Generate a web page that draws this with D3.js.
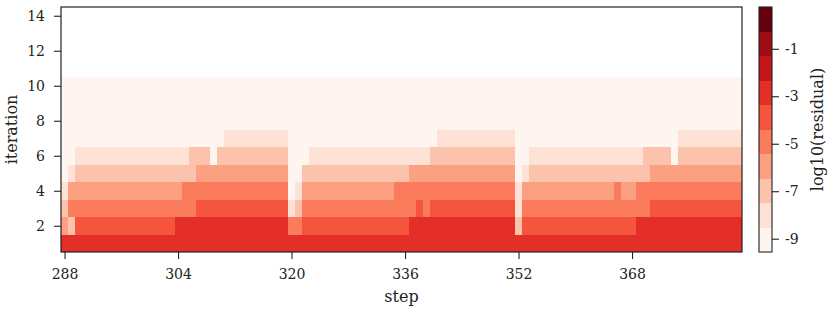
<!DOCTYPE html>
<html>
<head>
<meta charset="utf-8">
<script src="https://cdn.jsdelivr.net/npm/d3@7"></script>
<style>
  html, body { margin: 0; padding: 0; background: #fff; }
  svg { display: block; font-family: "DejaVu Serif", serif; }
</style>
</head>
<body>
<div id="chart"></div>
<script>
// steps on x, solver iteration on y, cell = log10(residual)
const steps = d3.range(288, 384);
const iterations = [1, 2, 3, 4, 5, 6, 7, 8, 9, 10];

// one row per iteration, 96 values (steps 288..383), three blocks of 32
const iter1 = [
  -3,-3,-3,-3,-3,-3,-3,-3, -3,-3,-3,-3,-3,-3,-3,-3, -3,-3,-3,-3,-3,-3,-3,-3, -3,-3,-3,-3,-3,-3,-3,-3,
  -3,-3,-3,-3,-3,-3,-3,-3, -3,-3,-3,-3,-3,-3,-3,-3, -3,-3,-3,-3,-3,-3,-3,-3, -3,-3,-3,-3,-3,-3,-3,-3,
  -3,-3,-3,-3,-3,-3,-3,-3, -3,-3,-3,-3,-3,-3,-3,-3, -3,-3,-3,-3,-3,-3,-3,-3, -3,-3,-3,-3,-3,-3,-3,-3,
];
const iter2 = [
  -6,-7,-4,-4,-4,-4,-4,-4, -4,-4,-4,-4,-4,-4,-4,-4, -3,-3,-3,-3,-3,-3,-3,-3, -3,-3,-3,-3,-3,-3,-3,-3,
  -5,-5,-4,-4,-4,-4,-4,-4, -4,-4,-4,-4,-4,-4,-4,-4, -4,-3,-3,-3,-3,-3,-3,-3, -3,-3,-3,-3,-3,-3,-3,-3,
  -7,-4,-4,-4,-4,-4,-4,-4, -4,-4,-4,-4,-4,-4,-4,-4, -4,-3,-3,-3,-3,-3,-3,-3, -3,-3,-3,-3,-3,-3,-3,-3,
];
const iter3 = [
  -7,-5,-5,-5,-5,-5,-5,-5, -5,-5,-5,-5,-5,-5,-5,-5, -5,-5,-5,-4,-4,-4,-4,-4, -4,-4,-4,-4,-4,-4,-4,-4,
  -8,-7,-5,-5,-5,-5,-5,-5, -5,-5,-5,-5,-5,-5,-5,-5, -5,-5,-4,-5,-4,-4,-4,-4, -4,-4,-4,-4,-4,-4,-4,-4,
  -8,-5,-5,-5,-5,-5,-5,-5, -5,-5,-5,-5,-5,-5,-5,-5, -5,-5,-5,-4,-4,-4,-4,-4, -4,-4,-4,-4,-4,-4,-4,-4,
];
const iter4 = [
  -8,-6,-6,-6,-6,-6,-6,-6, -6,-6,-6,-6,-6,-6,-6,-6, -6,-5,-5,-5,-5,-5,-5,-5, -5,-5,-5,-5,-5,-5,-5,-5,
  -9,-8,-6,-6,-6,-6,-6,-6, -6,-6,-6,-6,-6,-6,-6,-5, -5,-5,-5,-5,-5,-5,-5,-5, -5,-5,-5,-5,-5,-5,-5,-5,
  -8,-6,-6,-6,-6,-6,-6,-6, -6,-6,-6,-6,-6,-6,-5,-6, -6,-5,-5,-5,-5,-5,-5,-5, -5,-5,-5,-5,-5,-5,-5,-5,
];
const iter5 = [
  -9,-8,-7,-7,-7,-7,-7,-7, -7,-7,-7,-7,-7,-7,-7,-7, -7,-7,-7,-6,-6,-6,-6,-6, -6,-6,-6,-6,-6,-6,-6,-6,
  -9,-9,-7,-7,-7,-7,-7,-7, -7,-7,-7,-7,-7,-7,-7,-7, -7,-6,-6,-6,-6,-6,-6,-6, -6,-6,-6,-6,-6,-6,-6,-6,
  -9,-8,-7,-7,-7,-7,-7,-7, -7,-7,-7,-7,-7,-7,-7,-7, -7,-7,-7,-6,-6,-6,-6,-6, -6,-6,-6,-6,-6,-6,-6,-6,
];
const iter6 = [
  -9,-9,-8,-8,-8,-8,-8,-8, -8,-8,-8,-8,-8,-8,-8,-8, -8,-8,-7,-7,-7,-9,-7,-7, -7,-7,-7,-7,-7,-7,-7,-7,
  -9,-9,-9,-8,-8,-8,-8,-8, -8,-8,-8,-8,-8,-8,-8,-8, -8,-8,-8,-8,-7,-7,-7,-7, -7,-7,-7,-7,-7,-7,-7,-7,
  -9,-9,-8,-8,-8,-8,-8,-8, -8,-8,-8,-8,-8,-8,-8,-8, -8,-8,-7,-7,-7,-7,-9,-7, -7,-7,-7,-7,-7,-7,-7,-7,
];
const iter7 = [
  -9,-9,-9,-9,-9,-9,-9,-9, -9,-9,-9,-9,-9,-9,-9,-9, -9,-9,-9,-9,-9,-9,-9,-8, -8,-8,-8,-8,-8,-8,-8,-8,
  -9,-9,-9,-9,-9,-9,-9,-9, -9,-9,-9,-9,-9,-9,-9,-9, -9,-9,-9,-9,-9,-8,-8,-8, -8,-8,-8,-8,-8,-8,-8,-8,
  -9,-9,-9,-9,-9,-9,-9,-9, -9,-9,-9,-9,-9,-9,-9,-9, -9,-9,-9,-9,-9,-9,-9,-8, -8,-8,-8,-8,-8,-8,-8,-8,
];
const iter8 = [
  -9,-9,-9,-9,-9,-9,-9,-9, -9,-9,-9,-9,-9,-9,-9,-9, -9,-9,-9,-9,-9,-9,-9,-9, -9,-9,-9,-9,-9,-9,-9,-9,
  -9,-9,-9,-9,-9,-9,-9,-9, -9,-9,-9,-9,-9,-9,-9,-9, -9,-9,-9,-9,-9,-9,-9,-9, -9,-9,-9,-9,-9,-9,-9,-9,
  -9,-9,-9,-9,-9,-9,-9,-9, -9,-9,-9,-9,-9,-9,-9,-9, -9,-9,-9,-9,-9,-9,-9,-9, -9,-9,-9,-9,-9,-9,-9,-9,
];
const iter9 = [
  -9,-9,-9,-9,-9,-9,-9,-9, -9,-9,-9,-9,-9,-9,-9,-9, -9,-9,-9,-9,-9,-9,-9,-9, -9,-9,-9,-9,-9,-9,-9,-9,
  -9,-9,-9,-9,-9,-9,-9,-9, -9,-9,-9,-9,-9,-9,-9,-9, -9,-9,-9,-9,-9,-9,-9,-9, -9,-9,-9,-9,-9,-9,-9,-9,
  -9,-9,-9,-9,-9,-9,-9,-9, -9,-9,-9,-9,-9,-9,-9,-9, -9,-9,-9,-9,-9,-9,-9,-9, -9,-9,-9,-9,-9,-9,-9,-9,
];
const iter10 = [
  -9,-9,-9,-9,-9,-9,-9,-9, -9,-9,-9,-9,-9,-9,-9,-9, -9,-9,-9,-9,-9,-9,-9,-9, -9,-9,-9,-9,-9,-9,-9,-9,
  -9,-9,-9,-9,-9,-9,-9,-9, -9,-9,-9,-9,-9,-9,-9,-9, -9,-9,-9,-9,-9,-9,-9,-9, -9,-9,-9,-9,-9,-9,-9,-9,
  -9,-9,-9,-9,-9,-9,-9,-9, -9,-9,-9,-9,-9,-9,-9,-9, -9,-9,-9,-9,-9,-9,-9,-9, -9,-9,-9,-9,-9,-9,-9,-9,
];
const rows = [iter1, iter2, iter3, iter4, iter5, iter6, iter7, iter8, iter9, iter10];

const xTicks = [288, 304, 320, 336, 352, 368];
const yTicks = [2, 4, 6, 8, 10, 12, 14];
const cbarTicks = [-9, -7, -5, -3, -1];
const cbarDomain = [-9.56, 0.76];

// matplotlib "Reds" anchors, sampled into 10 discrete levels
const redsAnchors = ["#fff5f0", "#fee0d2", "#fcbba1", "#fc9272", "#fb6a4a",
                     "#ef3b2c", "#cb181d", "#a50f15", "#67000d"];

const svgWidth = 831;
const svgHeight = 310;
const plot = { left: 61, right: 742, top: 7, bottom: 252 };
const cbar = { left: 759, right: 772 };
const ink = "#222";

const svg = d3.select("#chart")
  .append("svg")
  .attr("width", svgWidth)
  .attr("height", svgHeight);

// Scales
const x = d3.scaleLinear().domain([287.5, 383.5]).range([plot.left, plot.right]);
const y = d3.scaleLinear().domain([0.5, 14.5]).range([plot.bottom, plot.top]);

const palette = d3.quantize(d3.piecewise(d3.interpolateRgb, redsAnchors), 10);
const color = d3.scaleQuantize().domain(cbarDomain).range(palette);

// cells
const cells = [];
rows.forEach((vals, i) => {
  vals.forEach((v, j) => cells.push({ step: steps[j], it: iterations[i], v }));
});

svg.append("g")
  .attr("shape-rendering", "crispEdges")
  .selectAll("rect")
  .data(cells)
  .join("rect")
  .attr("x", (d) => x(d.step - 0.5))
  .attr("y", (d) => y(d.it + 0.5))
  .attr("width", (d) => x(d.step + 0.5) - x(d.step - 0.5) + 0.3)
  .attr("height", (d) => y(d.it - 0.5) - y(d.it + 0.5) + 0.3)
  .attr("fill", (d) => color(d.v));

// frame
svg.append("rect")
  .attr("x", plot.left)
  .attr("y", plot.top)
  .attr("width", plot.right - plot.left)
  .attr("height", plot.bottom - plot.top)
  .attr("fill", "none")
  .attr("stroke", ink)
  .attr("stroke-width", 1.2);

const styleAxis = (g) => {
  g.select(".domain").remove();
  g.selectAll(".tick line").attr("stroke", ink).attr("stroke-width", 1.1);
  g.selectAll(".tick text")
    .attr("fill", ink)
    .attr("font-family", "DejaVu Serif")
    .attr("font-size", 14);
};

svg.append("g")
  .attr("transform", `translate(0, ${plot.bottom})`)
  .call(d3.axisBottom(x).tickValues(xTicks).tickSize(7).tickPadding(10))
  .call(styleAxis);

svg.append("g")
  .attr("transform", `translate(${plot.left}, 0)`)
  .call(d3.axisLeft(y).tickValues(yTicks).tickSize(7).tickPadding(9))
  .call(styleAxis);

// axis titles
svg.append("text")
  .attr("x", (plot.left + plot.right) / 2)
  .attr("y", 302)
  .attr("text-anchor", "middle")
  .attr("font-size", 16)
  .attr("fill", ink)
  .text("step");

svg.append("text")
  .attr("transform", `translate(17, ${(plot.top + plot.bottom) / 2}) rotate(-90)`)
  .attr("text-anchor", "middle")
  .attr("font-size", 16)
  .attr("fill", ink)
  .text("iteration");

// Colorbar
const cy = d3.scaleLinear().domain(cbarDomain).range([plot.bottom, plot.top]);

svg.append("g")
  .attr("shape-rendering", "crispEdges")
  .selectAll("rect")
  .data(palette)
  .join("rect")
  .attr("x", cbar.left)
  .attr("width", cbar.right - cbar.left)
  .attr("y", (c) => cy(color.invertExtent(c)[1]))
  .attr("height", (c) => cy(color.invertExtent(c)[0]) - cy(color.invertExtent(c)[1]) + 0.3)
  .attr("fill", (c) => c);

svg.append("rect")
  .attr("x", cbar.left)
  .attr("y", plot.top)
  .attr("width", cbar.right - cbar.left)
  .attr("height", plot.bottom - plot.top)
  .attr("fill", "none")
  .attr("stroke", ink)
  .attr("stroke-width", 1.1);

svg.append("g")
  .attr("transform", `translate(${cbar.right}, 0)`)
  .call(d3.axisRight(cy).tickValues(cbarTicks).tickSize(7).tickPadding(6)
    .tickFormat((d) => `-${Math.abs(d)}`))
  .call(styleAxis);

svg.append("text")
  .attr("transform", `translate(823, ${(plot.top + plot.bottom) / 2}) rotate(-90)`)
  .attr("text-anchor", "middle")
  .attr("font-size", 16)
  .attr("fill", ink)
  .text("log10(residual)");
</script>
</body>
</html>
